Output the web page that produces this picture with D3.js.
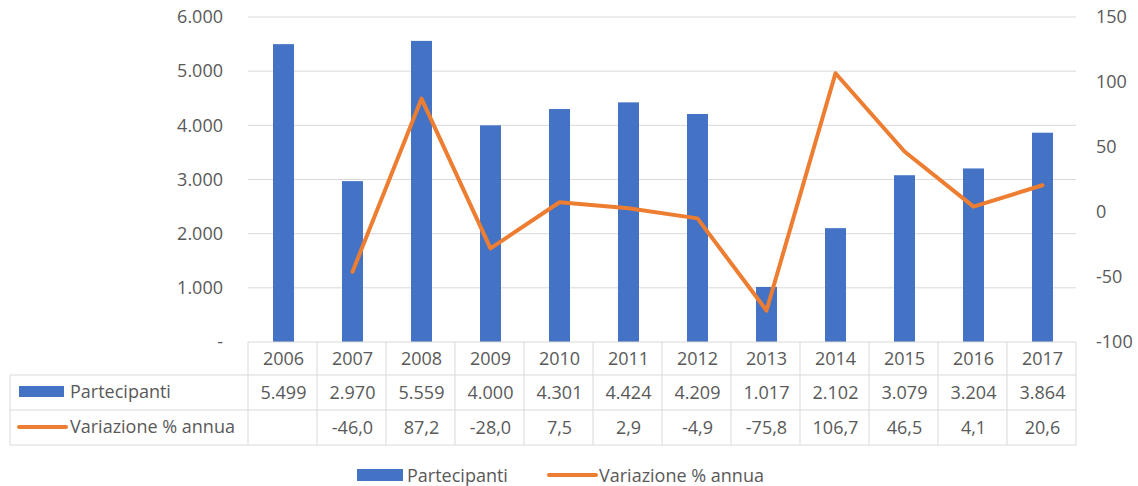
<!DOCTYPE html>
<html><head><meta charset="utf-8">
<script src="https://cdn.jsdelivr.net/npm/d3@7"></script>
<style>body{margin:0;background:#fff}svg{display:block}text{font-family:"Open Sans",sans-serif;fill:#595959}</style>
</head><body><svg id="c" width="1138" height="486"></svg>
<script>
const years = ["2006","2007","2008","2009","2010","2011","2012","2013","2014","2015","2016","2017"];
const partecipanti = [5499,2970,5559,4000,4301,4424,4209,1017,2102,3079,3204,3864];
const variazione = [null,-46.0,87.2,-28.0,7.5,2.9,-4.9,-75.8,106.7,46.5,4.1,20.6];
const leftTicks = [0,1000,2000,3000,4000,5000,6000];
const rightTicks = [-100,-50,0,50,100,150];
const seriesNames = ["Partecipanti","Variazione % annua"];

const svg = d3.select("#c");
const L=248, R=1076, T=17, B=342;
const FS = "18px";
const x = d3.scaleBand().domain(years).range([L,R]);
const yL = d3.scaleLinear().domain([0,6000]).range([B,T]);
const yR = d3.scaleLinear().domain([-100,150]).range([B,T]);
const blue="#4472C4", orange="#ED7D31", grid="#d9d9d9";
const fmtIt = d => d===0 ? "-" : d3.format(",")(d).replace(/,/g,".");
const fmtDec = d => d==null ? "" : d.toFixed(1).replace(".",",");

// gridlines
svg.append("g").selectAll("line").data(leftTicks.filter(d=>d>0)).join("line")
  .attr("x1",L).attr("x2",R).attr("y1",d=>yL(d)).attr("y2",d=>yL(d))
  .attr("stroke",grid).attr("stroke-width",1);

// left axis
const gl = svg.append("g").attr("transform",`translate(${L},0)`)
  .call(d3.axisLeft(yL).tickValues(leftTicks).tickFormat(fmtIt).tickSize(0).tickPadding(25));
gl.select(".domain").remove();
gl.selectAll("text").style("font-size",FS).style("fill","#595959").style("font-family","'Open Sans',sans-serif");
// right axis
const gr = svg.append("g").attr("transform",`translate(${R},0)`)
  .call(d3.axisRight(yR).tickValues(rightTicks).tickFormat(d=>String(d)).tickSize(0).tickPadding(20));
gr.select(".domain").remove();
gr.selectAll("text").style("font-size",FS).style("fill","#595959").style("font-family","'Open Sans',sans-serif");

// bars
const bw = 21;
svg.append("g").selectAll("rect").data(years).join("rect")
  .attr("x",(d)=>x(d)+x.bandwidth()/2-bw/2+1).attr("width",bw)
  .attr("y",(d,i)=>yL(partecipanti[i])).attr("height",(d,i)=>B-yL(partecipanti[i]))
  .attr("fill",blue);

// line
const pts = years.map((d,i)=>({y:d,v:variazione[i]})).filter(p=>p.v!=null);
svg.append("path").datum(pts)
  .attr("d",d3.line().x(p=>x(p.y)+x.bandwidth()/2+1).y(p=>yR(p.v)))
  .attr("fill","none").attr("stroke",orange).attr("stroke-width",4).attr("stroke-linejoin","round").attr("stroke-linecap","round");

// data table
const rows=[B,375,410,445];
const tg = svg.append("g");
const tcol = "#d9d9d9";
tg.append("line").attr("x1",L).attr("x2",R).attr("y1",rows[0]).attr("y2",rows[0]).attr("stroke",tcol);
[1,2,3].forEach(r=>tg.append("line").attr("x1",10).attr("x2",R).attr("y1",rows[r]).attr("y2",rows[r]).attr("stroke",tcol));
tg.append("line").attr("x1",10).attr("x2",10).attr("y1",rows[1]).attr("y2",rows[3]).attr("stroke",tcol);
years.forEach(d=>tg.append("line").attr("x1",x(d)).attr("x2",x(d)).attr("y1",rows[0]).attr("y2",rows[3]).attr("stroke",tcol));
tg.append("line").attr("x1",R).attr("x2",R).attr("y1",rows[0]).attr("y2",rows[3]).attr("stroke",tcol);
const rowTxt = [years, partecipanti.map(fmtIt), variazione.map(fmtDec)];
rowTxt.forEach((arr,r)=>{
  tg.selectAll(null).data(arr).join("text")
    .attr("x",(d,i)=>x(years[i])+x.bandwidth()/2+1).attr("y",(rows[r]+rows[r+1])/2+6)
    .attr("text-anchor","middle").style("font-size",FS).text(d=>d);
});
// row headers
tg.append("rect").attr("x",19).attr("y",386).attr("width",45).attr("height",11).attr("fill",blue);
tg.append("text").attr("x",70).attr("y",398).style("font-size",FS).text(seriesNames[0]);
tg.append("line").attr("x1",19).attr("x2",66).attr("y1",427).attr("y2",427).attr("stroke",orange).attr("stroke-width",4).attr("stroke-linecap","round");
tg.append("text").attr("x",70).attr("y",433).style("font-size",FS).text(seriesNames[1]);

// legend
const lg = svg.append("g");
lg.append("rect").attr("x",357).attr("y",469).attr("width",46).attr("height",12).attr("fill",blue);
lg.append("text").attr("x",407).attr("y",482).style("font-size",FS).text(seriesNames[0]);
lg.append("line").attr("x1",549).attr("x2",596).attr("y1",475).attr("y2",475).attr("stroke",orange).attr("stroke-width",4).attr("stroke-linecap","round");
lg.append("text").attr("x",599).attr("y",482).style("font-size",FS).text(seriesNames[1]);
</script></body></html>
